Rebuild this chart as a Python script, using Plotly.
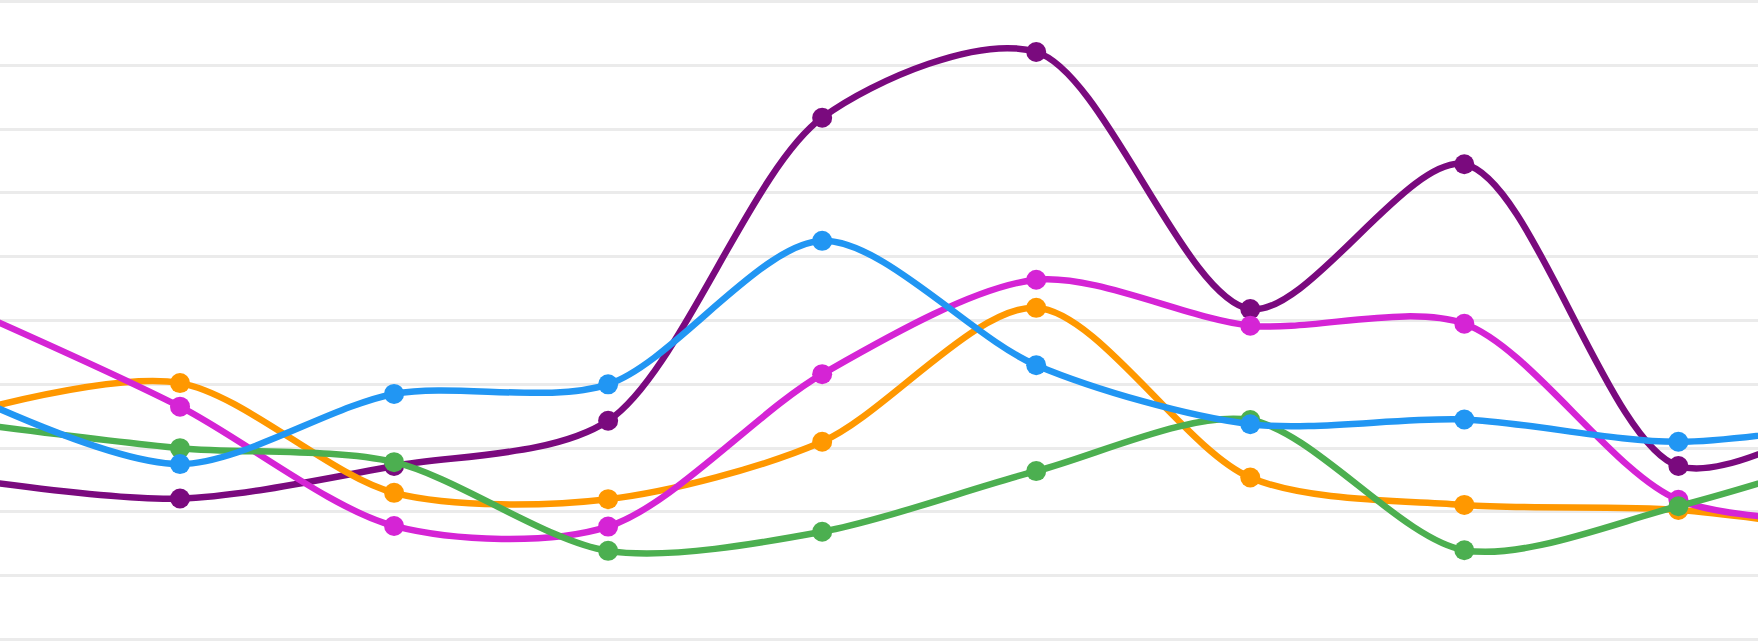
import plotly.graph_objects as go

# x positions (index); first and last points lie just outside the visible window
x_idx = [-1, 0, 1, 2, 3, 4, 5, 6, 7, 8]

purple = [2.52, 2.21, 2.72, 3.43, 8.18, 9.21, 5.18, 7.45, 2.72, 4.0]
magenta = [5.2, 3.65, 1.78, 1.77, 4.16, 5.64, 4.92, 4.95, 2.19, 1.9]
orange = [3.55, 4.02, 2.30, 2.20, 3.10, 5.20, 2.54, 2.11, 2.03, 1.6]
green = [3.4, 3.00, 2.78, 1.39, 1.69, 2.64, 3.44, 1.40, 2.09, 3.1]
blue = [3.85, 2.75, 3.85, 4.00, 6.25, 4.30, 3.375, 3.45, 3.10, 3.5]

series = [
    ("Purple", purple, "#7a0a7e"),
    ("Orange", orange, "#ff9800"),
    ("Magenta", magenta, "#d524d5"),
    ("Green", green, "#4caf50"),
    ("Blue", blue, "#2196f3"),
]

fig = go.Figure()
for name, vals, col in series:
    fig.add_trace(go.Scatter(
        x=x_idx, y=vals, name=name, mode="lines+markers",
        line=dict(color=col, width=6.5, shape="spline", smoothing=0.85),
        marker=dict(color=col, size=20),
        hoverinfo="skip",
    ))

fig.update_layout(
    width=1758, height=644,
    margin=dict(l=0, r=0, t=0, b=0),
    paper_bgcolor="white", plot_bgcolor="white",
    showlegend=False,
    xaxis=dict(range=[-0.841, 7.372], showgrid=False, zeroline=False,
               showticklabels=False, showline=False),
    yaxis=dict(range=[-0.07, 10.025], tick0=0, dtick=1, showgrid=True,
               gridcolor="#ebebeb", gridwidth=3, zeroline=False,
               showticklabels=False, showline=False),
)

fig.write_html("out.html")
